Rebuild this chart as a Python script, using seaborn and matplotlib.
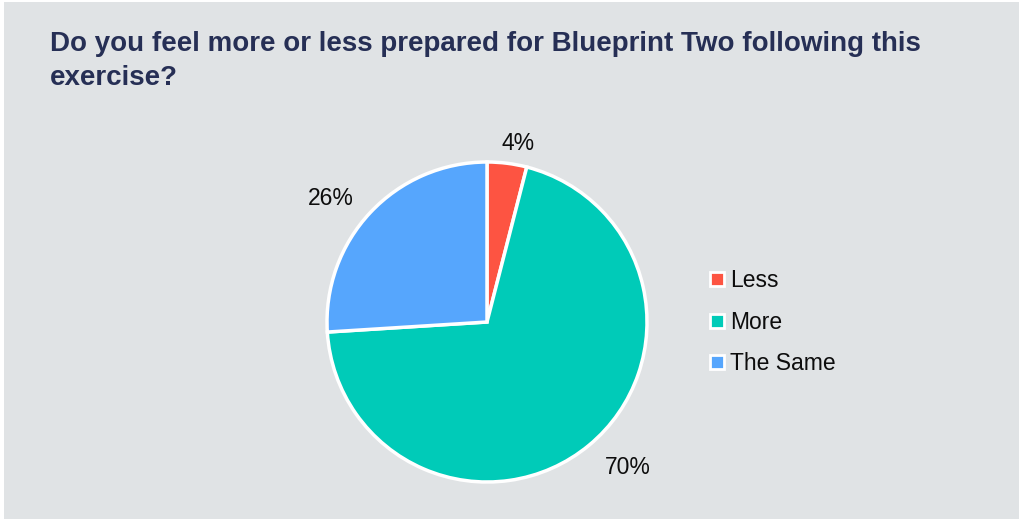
import matplotlib
matplotlib.use("Agg")
import matplotlib.pyplot as plt
import matplotlib.transforms as mtransforms
import seaborn as sns
from matplotlib.lines import Line2D
from matplotlib.patches import Rectangle

categories = ["Less", "More", "The Same"]
values = [4, 70, 26]
colors = ["#fd5442", "#00cbb8", "#56a6fd"]
title = "Do you feel more or less prepared for Blueprint Two following this\nexercise?"

sns.set_style("white")
plt.rcParams["font.family"] = ["Liberation Sans", "DejaVu Sans"]
palette = sns.color_palette(colors)

W, H = 1020, 519
fig = plt.figure(figsize=(W / 100, H / 100), dpi=100)
fig.patch.set_facecolor("white")
fig.patches.append(Rectangle((4 / W, 0), 1 - 4 / W, 1 - 2 / H, transform=fig.transFigure,
                             facecolor="#e0e3e5", edgecolor="none", zorder=-5))

cx, cy, r = 487, 322, 160
ax = fig.add_axes([(cx - r) / W, (H - cy - r) / H, 2 * r / W, 2 * r / H])
ax.set_zorder(2)
ax.set_facecolor("none")
wedges, texts = ax.pie(values, colors=palette, startangle=90, counterclock=False,
                       labels=[f"{v}%" for v in values], labeldistance=1.16,
                       wedgeprops=dict(edgecolor="white", linewidth=2.5),
                       textprops=dict(fontsize=16.5, color="#0d0d0d"))
# small nudges of label text placement
texts[0].set_transform(mtransforms.offset_copy(ax.transData, fig=fig, x=-9, y=-6, units="dots"))
texts[1].set_transform(mtransforms.offset_copy(ax.transData, fig=fig, x=0, y=-2, units="dots"))
texts[2].set_transform(mtransforms.offset_copy(ax.transData, fig=fig, x=2, y=-4, units="dots"))
ax.set_aspect("equal")
ax.set_xlim(-1, 1)
ax.set_ylim(-1, 1)
ax.axis("off")

fig.text(50 / W, 1 - 61 / H, title, fontsize=20, fontweight="bold", color="#262f55",
         va="center", ha="left", linespacing=1.4, zorder=3)

handles = [Line2D([0], [0], marker="s", linestyle="none", markersize=10,
                  markerfacecolor=c, markeredgecolor="white", markeredgewidth=2)
           for c in palette]
leg = fig.legend(handles, categories, loc="upper left", bbox_to_anchor=(700 / W, 1 - 260 / H),
                 frameon=False, fontsize=16.5, handlelength=0.7, handletextpad=0.2,
                 labelspacing=0.81, borderaxespad=0)
for t in leg.get_texts():
    t.set_color("#0d0d0d")
leg.set_zorder(3)

fig.savefig("out.png", dpi=100)
